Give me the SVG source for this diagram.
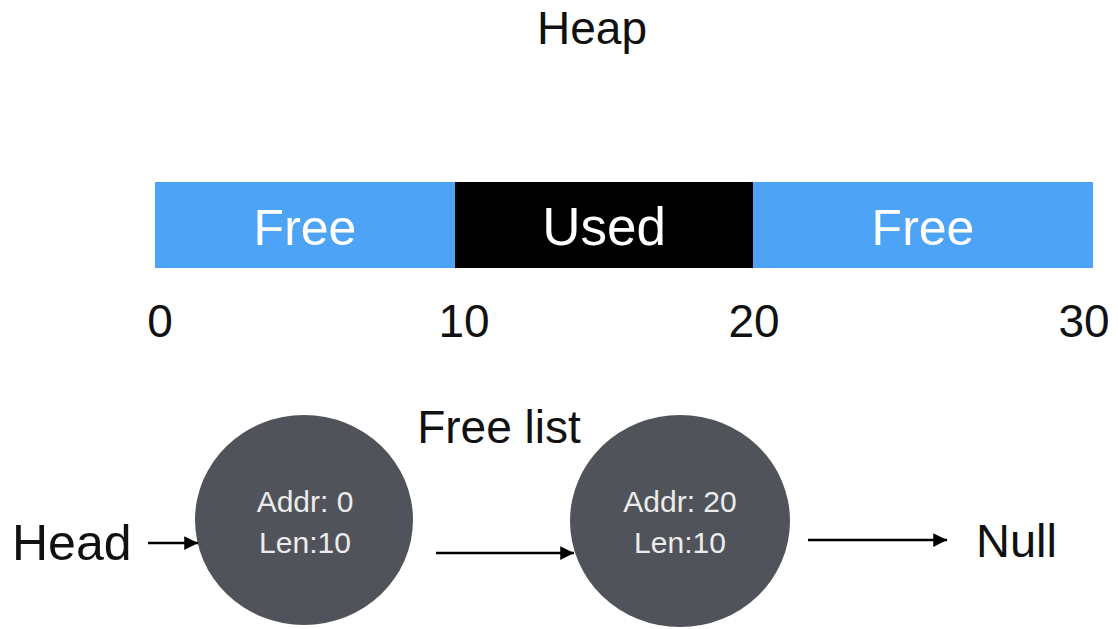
<svg xmlns="http://www.w3.org/2000/svg" width="1118" height="629" viewBox="0 0 1118 629">
  <defs>
    <style>
      .lbl { font-family: "Liberation Sans", Arial, sans-serif; fill: #111; font-size: 46px; }
      .seg { font-family: "Liberation Sans", Arial, sans-serif; fill: #ffffff; font-size: 50px; text-anchor: middle; }
      .nodetxt { font-family: "Liberation Sans", Arial, sans-serif; fill: #ececec; font-size: 30px; text-anchor: middle; }
      .node { fill: #50545a; }
      .link { stroke: #000; stroke-width: 2.5; fill: none; marker-end: url(#head); }
    </style>
    <marker id="head" viewBox="0 0 10 10" refX="10" refY="5" markerWidth="6" markerHeight="5.5" orient="auto" markerUnits="strokeWidth">
      <path d="M0,0 L10,5 L0,10 z" fill="#000"/>
    </marker>
  </defs>
  <rect width="1118" height="629" fill="#ffffff"/>

  <!-- title -->
  <text class="lbl" x="592" y="44" text-anchor="middle">Heap</text>

  <!-- heap bar -->
  <g id="heap-bar">
    <rect x="155" y="182" width="300" height="86" fill="#4da3f5"/>
    <rect x="455" y="182" width="298" height="86" fill="#000000"/>
    <rect x="753" y="182" width="340" height="86" fill="#4da3f5"/>
    <text class="seg" x="305" y="245">Free</text>
    <text class="seg" x="604" y="245" style="font-size:53px">Used</text>
    <text class="seg" x="923" y="245">Free</text>
  </g>

  <!-- address scale -->
  <g id="scale">
    <text class="lbl" x="160" y="337" text-anchor="middle">0</text>
    <text class="lbl" x="464" y="337" text-anchor="middle">10</text>
    <text class="lbl" x="754" y="337" text-anchor="middle">20</text>
    <text class="lbl" x="1084" y="337" text-anchor="middle">30</text>
  </g>

  <text class="lbl" x="499" y="443" text-anchor="middle">Free list</text>

  <g id="head-label">
    <text class="lbl" x="12" y="560" style="font-size:50px">Head</text>
  </g>

  <g id="node-0">
    <ellipse class="node" cx="304" cy="520" rx="109" ry="105"/>
    <text class="nodetxt" x="305" y="512">Addr: 0</text>
    <text class="nodetxt" x="305" y="553">Len:10</text>
  </g>

  <g id="node-20">
    <ellipse class="node" cx="680" cy="521" rx="110" ry="106"/>
    <text class="nodetxt" x="680" y="512">Addr: 20</text>
    <text class="nodetxt" x="680" y="553">Len:10</text>
  </g>

  <g id="null-label">
    <text class="lbl" x="976" y="557" style="font-size:47px">Null</text>
  </g>

  <g id="connectors">
    <line class="link" x1="148" y1="543" x2="198" y2="543"/>
    <line class="link" x1="436" y1="553" x2="574" y2="553"/>
    <line class="link" x1="808" y1="540" x2="947" y2="540"/>
  </g>
</svg>
